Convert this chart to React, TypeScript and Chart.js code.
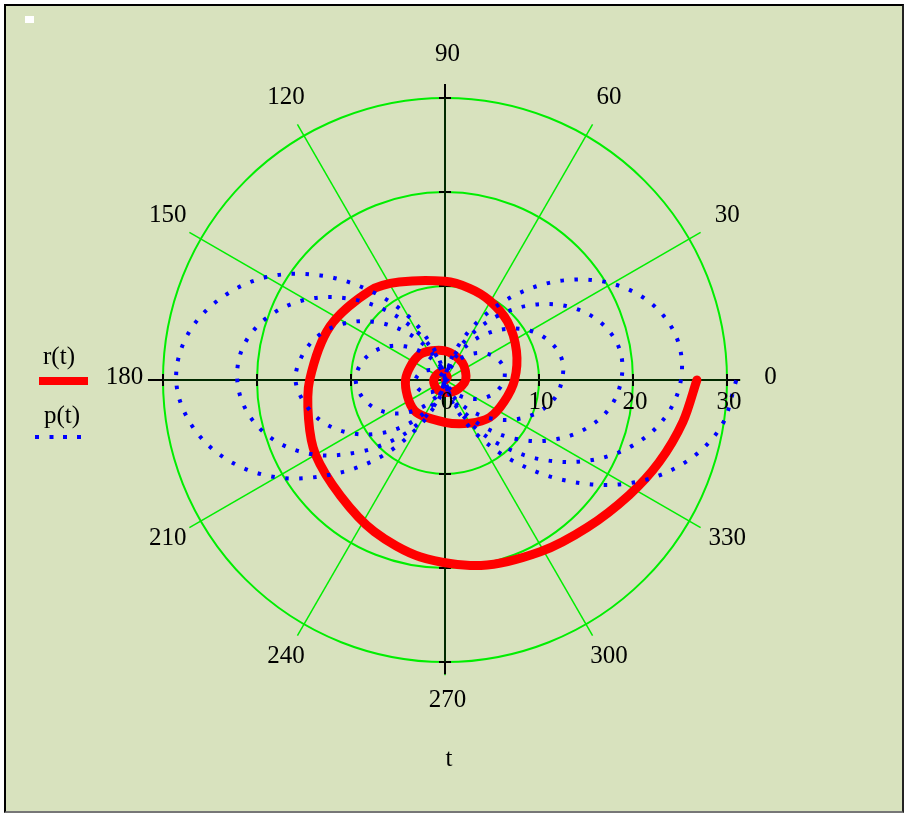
import React, { useEffect, useRef } from "react";
import { Chart, registerables } from "chart.js";

Chart.register(...registerables);

// ---------- data ----------
const seriesNames = ["r(t)", "p(t)"];
const axisTitle = "t";
const angleLabelDegrees = [0, 30, 60, 90, 120, 150, 180, 210, 240, 270, 300, 330];
const angleLabels = ["0", "30", "60", "90", "120", "150", "180", "210", "240", "270", "300", "330"];
const spokeDegrees = [0, 30, 60, 90, 120, 150, 180, 210, 240, 270, 300, 330];
const radialTickValues = [0, 10, 20, 30];
const radialTickLabels = ["0", "10", "20", "30"];
const ringValues = [10, 20, 30];
const axisTickValues = [-30, -20, -10, 10, 20, 30];

// r(t): red spiral, cumulative angle t (degrees) and radius
const rAngleDeg = [
  0, 45, 90, 135, 180, 225, 270, 315,
  360, 405, 450, 495, 540, 585, 630,
  660, 680, 700, 720,
  742, 763, 781, 795, 810,
  835, 850, 875, 900,
  916, 930, 948, 965, 982,
  1001, 1019, 1034, 1048, 1059, 1070, 1080,
];
const rRadius = [
  0.05, 0.35, 0.7, 1.0, 1.2, 1.3, 1.3, 1.6,
  2.2, 2.6, 3.1, 3.8, 4.2, 4.6, 4.5,
  5.3, 6.2, 6.7, 7.4,
  8.2, 9.1, 9.7, 10.1, 10.5,
  11.5, 12.4, 13.5, 14.4,
  15.1, 15.9, 16.6, 17.8, 19.0,
  20.1, 20.9, 21.8, 23.1, 24.4, 25.7, 26.8,
];

// p(t): blue dotted curve, radius read every 10 degrees of t (0..1800)
const pAngleStepDeg = 10;
const pRadius = [
  0, 0.17, 0.31, 0.39, 0.41, 0.36, 0.26, 0.14, 0.04, 0, 0.06, 0.25, 0.59, 1.04, 1.56, 2.09, 2.58, 2.94,
  3.14, 3.15, 2.94, 2.57, 2.05, 1.48, 0.91, 0.43, 0.11, 0, 0.12, 0.5, 1.14, 1.99, 2.99, 4.03, 5.01, 5.79,
  6.28, 6.4, 6.12, 5.45, 4.46, 3.29, 2.07, 1.01, 0.27, 0, 0.28, 1.1, 2.36, 3.92, 5.57, 7.12, 8.36, 9.17,
  9.5, 9.11, 8.25, 6.97, 5.42, 3.78, 2.28, 1.06, 0.27, 0, 0.28, 1.13, 2.51, 4.3, 6.35, 8.43, 10.32, 11.76,
  12.45, 12.63, 11.9, 10.47, 8.46, 6.16, 3.84, 1.85, 0.5, 0, 0.51, 1.94, 4.15, 6.8, 9.59, 12.14, 14.16, 15.39,
  15.9, 15.06, 13.56, 11.37, 8.78, 6.1, 3.65, 1.68, 0.43, 0, 0.43, 1.75, 3.87, 6.61, 9.71, 12.83, 15.62, 17.71,
  18.75, 18.86, 17.7, 15.49, 12.48, 9.05, 5.62, 2.7, 0.72, 0, 0.73, 2.8, 5.9, 9.6, 13.5, 17.1, 19.9, 21.7,
  22.1, 21.2, 19.1, 15.9, 11.9, 8.2, 5.0, 2.3, 0.58, 0, 0.59, 2.38, 5.24, 8.92, 13.08, 17.24, 20.92, 23.67,
  25.1, 25.08, 23.49, 20.51, 16.49, 11.93, 7.4, 3.54, 0.94, 0, 1.0, 3.6, 7.9, 12.4, 17.3, 21.9, 25.4, 27.8,
  28.6, 27.4, 24.7, 20.7, 15.6, 10.7, 5.9, 2.6, 0.7, 0, 0.74, 3.0, 6.6, 11.2, 16.6, 22.1, 26.6, 29.7,
  31.0,
];

// ---------- style / layout ----------
const BG = "rgb(216,226,190)";
const GREEN = "#00ee00";
const RED = "#ff0000";
const BLUE = "#0000ff";
const FONT = '25px "Liberation Serif", "Times New Roman", serif';
const CANVAS_W = 895;
const CANVAS_H = 804;
const PX_PER_UNIT = 9.4;
const CENTER_X = 439; // canvas px
const CENTER_Y = 374;
const X_MIN = -CENTER_X / PX_PER_UNIT;
const X_MAX = X_MIN + CANVAS_W / PX_PER_UNIT;
const Y_MAX = CENTER_Y / PX_PER_UNIT;
const Y_MIN = Y_MAX - CANVAS_H / PX_PER_UNIT;
const SPOKE_R = 31.4;
const LABEL_R = 34.36;

const toRad = (d: number) => (d * Math.PI) / 180;
const polarToXY = (deg: number, r: number) => ({ x: r * Math.cos(toRad(deg)), y: r * Math.sin(toRad(deg)) });

const redPoints = rAngleDeg.map((d, i) => polarToXY(d, rRadius[i]));
const bluePoints = pRadius.map((r, i) => polarToXY(i * pAngleStepDeg, r));

const polarGrid = {
  id: "polarGrid",
  beforeDatasetsDraw(chart: any) {
    const { ctx } = chart;
    const xs = chart.scales.x;
    const ys = chart.scales.y;
    const px = (v: number) => xs.getPixelForValue(v);
    const py = (v: number) => ys.getPixelForValue(v);
    const cx = px(0);
    const cy = py(0);
    ctx.save();
    ctx.strokeStyle = GREEN;
    ctx.lineWidth = 1.5;
    spokeDegrees.forEach((d) => {
      const a = toRad(d);
      ctx.beginPath();
      ctx.moveTo(cx, cy);
      ctx.lineTo(px(SPOKE_R * Math.cos(a)), py(SPOKE_R * Math.sin(a)));
      ctx.stroke();
    });
    ctx.lineWidth = 2;
    ringValues.forEach((r) => {
      ctx.beginPath();
      ctx.arc(cx, cy, px(r) - cx, 0, Math.PI * 2);
      ctx.stroke();
    });
    ctx.strokeStyle = "#000";
    ctx.lineWidth = 2;
    ctx.beginPath();
    ctx.moveTo(px(-31.6), cy);
    ctx.lineTo(px(31.4), cy);
    ctx.moveTo(cx, py(31.5));
    ctx.lineTo(cx, py(-31.3));
    axisTickValues.forEach((v) => {
      ctx.moveTo(px(v), cy - 6);
      ctx.lineTo(px(v), cy + 6);
      ctx.moveTo(cx - 6, py(v));
      ctx.lineTo(cx + 6, py(v));
    });
    ctx.stroke();
    ctx.strokeStyle = "rgba(0,150,0,0.55)";
    ctx.lineWidth = 1;
    ctx.beginPath();
    ctx.moveTo(px(-30), cy);
    ctx.lineTo(px(30), cy);
    ctx.moveTo(cx, py(30));
    ctx.lineTo(cx, py(-30));
    ctx.stroke();
    ctx.restore();
  },
};

const polarLabels = {
  id: "polarLabels",
  afterDatasetsDraw(chart: any) {
    const { ctx } = chart;
    const xs = chart.scales.x;
    const ys = chart.scales.y;
    const px = (v: number) => xs.getPixelForValue(v);
    const py = (v: number) => ys.getPixelForValue(v);
    const cx = px(0);
    const cy = py(0);
    ctx.save();
    ctx.font = FONT;
    ctx.fillStyle = "#000";
    ctx.textAlign = "center";
    ctx.textBaseline = "middle";
    angleLabelDegrees.forEach((d, i) => {
      const a = toRad(d);
      ctx.fillText(angleLabels[i], px(LABEL_R * Math.cos(a) + 0.27), py(LABEL_R * Math.sin(a) + 0.32));
    });
    radialTickValues.forEach((v, i) => {
      ctx.fillText(radialTickLabels[i], px(v) + 2, cy + 22);
    });
    ctx.fillText(axisTitle, cx + 4, cy + 379);

    // legend
    ctx.fillText(seriesNames[0], 53, 351);
    ctx.strokeStyle = RED;
    ctx.lineWidth = 8;
    ctx.lineCap = "butt";
    ctx.beginPath();
    ctx.moveTo(33, 375);
    ctx.lineTo(82, 375);
    ctx.stroke();
    ctx.fillText(seriesNames[1], 56, 410);
    ctx.fillStyle = BLUE;
    [31, 45.5, 59, 73].forEach((x) => ctx.fillRect(x - 2, 429, 4, 4));
    ctx.restore();
  },
};

export default function App() {
  const ref = useRef<HTMLCanvasElement>(null);
  useEffect(() => {
    const chart = new Chart(ref.current as HTMLCanvasElement, {
      type: "scatter",
      data: {
        datasets: [
          {
            label: seriesNames[0],
            data: redPoints,
            showLine: true,
            borderColor: RED,
            backgroundColor: RED,
            borderWidth: 9,
            pointRadius: 0,
            tension: 0.3,
            borderCapStyle: "round",
            borderJoinStyle: "round",
            order: 1,
          } as any,
          {
            label: seriesNames[1],
            data: bluePoints,
            showLine: true,
            borderColor: BLUE,
            backgroundColor: BLUE,
            borderWidth: 4,
            borderDash: [3.5, 10.5],
            borderCapStyle: "butt",
            pointRadius: 0,
            tension: 0.35,
            order: 0,
          } as any,
        ],
      },
      options: {
        animation: false,
        responsive: false,
        maintainAspectRatio: false,
        events: [],
        layout: { padding: 0 },
        plugins: { legend: { display: false }, tooltip: { enabled: false } },
        scales: {
          x: { type: "linear", display: false, min: X_MIN, max: X_MAX },
          y: { type: "linear", display: false, min: Y_MIN, max: Y_MAX },
        },
      },
      plugins: [polarGrid, polarLabels],
    });
    return () => chart.destroy();
  }, []);

  return (
    <div
      style={{
        position: "absolute",
        left: 4,
        top: 4,
        width: 900,
        height: 809,
        boxSizing: "border-box",
        background: BG,
        borderTop: "2px solid #000",
        borderLeft: "2px solid #000",
        borderRight: "2px solid #222",
        borderBottom: "2px solid #777",
      }}
    >
      <div style={{ position: "absolute", left: 19, top: 10, width: 9, height: 7, background: "#fff" }} />
      <canvas
        ref={ref}
        width={CANVAS_W}
        height={CANVAS_H}
        style={{ position: "absolute", left: 0, top: 0, width: CANVAS_W, height: CANVAS_H }}
      />
    </div>
  );
}
